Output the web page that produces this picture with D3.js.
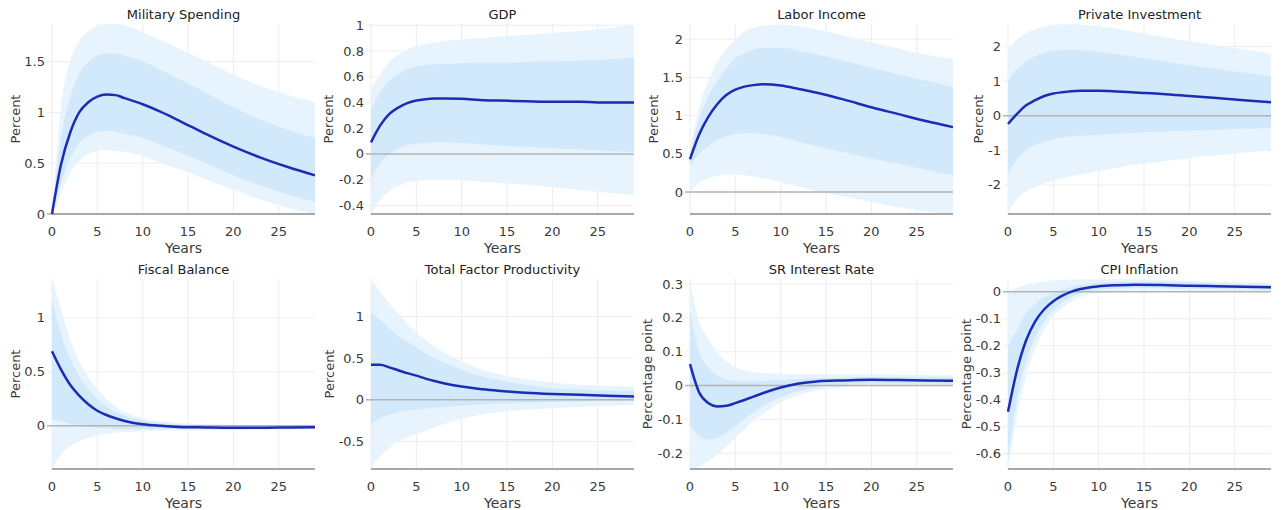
<!DOCTYPE html>
<html>
<head>
<meta charset="utf-8">
<script src="https://cdn.jsdelivr.net/npm/d3@7"></script>
<style>
  html, body { margin: 0; padding: 0; background: #fff; }
  svg { display: block; font-family: "DejaVu Sans", Verdana, sans-serif; }
</style>
</head>
<body>
<svg id="chart" width="1283" height="510"></svg>
<script>
const years = [0, 1, 2, 3, 4, 5, 6, 7, 8, 10, 12, 14, 17, 20, 23, 26, 29];
const xTicks = [0, 5, 10, 15, 20, 25];

// Military Spending
const milMed  = [0, 0.49, 0.80, 1.00, 1.10, 1.155, 1.175, 1.17, 1.14, 1.08, 1.005, 0.92, 0.785, 0.663, 0.555, 0.462, 0.38];
const milHi90 = [0, 1.05, 1.50, 1.70, 1.80, 1.85, 1.87, 1.87, 1.86, 1.79, 1.71, 1.63, 1.50, 1.37, 1.26, 1.17, 1.10];
const milHi68 = [0, 0.75, 1.15, 1.38, 1.50, 1.56, 1.58, 1.58, 1.56, 1.50, 1.42, 1.33, 1.19, 1.05, 0.93, 0.83, 0.75];
const milLo68 = [0, 0.30, 0.55, 0.70, 0.77, 0.81, 0.82, 0.81, 0.79, 0.75, 0.68, 0.61, 0.50, 0.38, 0.28, 0.19, 0.12];
const milLo90 = [0, 0.20, 0.40, 0.52, 0.59, 0.62, 0.63, 0.62, 0.61, 0.57, 0.50, 0.44, 0.34, 0.24, 0.14, 0.06, 0.0];
const milTicks = [0, 0.5, 1, 1.5];

// GDP
const gdpMed  = [0.09, 0.22, 0.31, 0.36, 0.395, 0.415, 0.425, 0.43, 0.43, 0.428, 0.42, 0.415, 0.41, 0.405, 0.405, 0.40, 0.40];
const gdpHi90 = [0.50, 0.62, 0.71, 0.77, 0.81, 0.84, 0.855, 0.865, 0.875, 0.89, 0.90, 0.91, 0.925, 0.94, 0.955, 0.975, 1.0];
const gdpHi68 = [0.35, 0.48, 0.57, 0.62, 0.66, 0.68, 0.69, 0.70, 0.70, 0.705, 0.71, 0.71, 0.715, 0.72, 0.725, 0.735, 0.75];
const gdpLo68 = [-0.20, -0.07, 0.0, 0.04, 0.07, 0.08, 0.085, 0.09, 0.09, 0.085, 0.075, 0.065, 0.055, 0.045, 0.035, 0.025, 0.015];
const gdpLo90 = [-0.46, -0.36, -0.29, -0.25, -0.22, -0.21, -0.205, -0.20, -0.20, -0.205, -0.215, -0.225, -0.24, -0.26, -0.28, -0.30, -0.32];
const gdpTicks = [-0.4, -0.2, 0, 0.2, 0.4, 0.6, 0.8, 1];

// Labor Income
const labMed  = [0.43, 0.75, 0.98, 1.15, 1.27, 1.34, 1.38, 1.40, 1.41, 1.395, 1.35, 1.30, 1.21, 1.11, 1.02, 0.93, 0.85];
const labHi90 = [0.55, 1.10, 1.45, 1.70, 1.87, 2.00, 2.10, 2.15, 2.18, 2.19, 2.17, 2.13, 2.05, 1.96, 1.88, 1.80, 1.74];
const labHi68 = [0.50, 0.95, 1.25, 1.45, 1.62, 1.75, 1.82, 1.87, 1.89, 1.89, 1.85, 1.80, 1.72, 1.63, 1.54, 1.46, 1.38];
const labLo68 = [0.35, 0.50, 0.60, 0.68, 0.73, 0.76, 0.77, 0.77, 0.76, 0.72, 0.66, 0.60, 0.52, 0.44, 0.37, 0.29, 0.22];
const labLo90 = [0.0, 0.12, 0.18, 0.21, 0.23, 0.23, 0.22, 0.20, 0.18, 0.13, 0.07, 0.01, -0.06, -0.13, -0.20, -0.25, -0.29];
const labTicks = [0, 0.5, 1, 1.5, 2];

// Private Investment
const invMed  = [-0.24, 0.05, 0.30, 0.45, 0.57, 0.64, 0.68, 0.71, 0.72, 0.72, 0.70, 0.67, 0.63, 0.57, 0.51, 0.45, 0.39];
const invHi90 = [1.90, 2.20, 2.38, 2.50, 2.58, 2.62, 2.64, 2.64, 2.63, 2.60, 2.52, 2.42, 2.28, 2.15, 2.03, 1.92, 1.80];
const invHi68 = [1.02, 1.35, 1.57, 1.72, 1.82, 1.88, 1.90, 1.90, 1.89, 1.85, 1.78, 1.70, 1.58, 1.46, 1.35, 1.25, 1.15];
const invLo68 = [-1.68, -1.25, -1.00, -0.85, -0.75, -0.68, -0.63, -0.60, -0.58, -0.55, -0.52, -0.49, -0.46, -0.43, -0.41, -0.38, -0.36];
const invLo90 = [-2.83, -2.40, -2.20, -2.05, -1.95, -1.88, -1.81, -1.75, -1.70, -1.60, -1.50, -1.42, -1.32, -1.22, -1.14, -1.07, -1.00];
const invTicks = [-2, -1, 0, 1, 2];

// Fiscal Balance
const fisMed  = [0.69, 0.52, 0.38, 0.28, 0.20, 0.14, 0.10, 0.07, 0.045, 0.015, 0.0, -0.01, -0.015, -0.018, -0.018, -0.015, -0.013];
const fisHi90 = [1.36, 1.08, 0.80, 0.60, 0.45, 0.34, 0.25, 0.18, 0.13, 0.07, 0.04, 0.025, 0.015, 0.01, 0.01, 0.01, 0.01];
const fisHi68 = [1.16, 0.85, 0.62, 0.46, 0.34, 0.25, 0.18, 0.13, 0.095, 0.05, 0.025, 0.012, 0.005, 0.0, 0.0, 0.0, 0.0];
const fisLo68 = [0.06, 0.04, 0.02, 0.0, -0.01, -0.02, -0.025, -0.03, -0.03, -0.03, -0.03, -0.03, -0.03, -0.03, -0.025, -0.025, -0.022];
const fisLo90 = [-0.40, -0.27, -0.19, -0.14, -0.11, -0.09, -0.075, -0.065, -0.058, -0.05, -0.045, -0.042, -0.04, -0.038, -0.035, -0.033, -0.03];
const fisTicks = [0, 0.5, 1];

// Total Factor Productivity
const tfpMed  = [0.42, 0.42, 0.39, 0.355, 0.32, 0.29, 0.255, 0.225, 0.20, 0.16, 0.13, 0.11, 0.085, 0.07, 0.06, 0.05, 0.04];
const tfpHi90 = [1.45, 1.30, 1.16, 1.03, 0.92, 0.81, 0.72, 0.64, 0.57, 0.46, 0.37, 0.31, 0.25, 0.21, 0.18, 0.17, 0.16];
const tfpHi68 = [1.06, 0.96, 0.86, 0.77, 0.70, 0.63, 0.56, 0.50, 0.45, 0.36, 0.29, 0.24, 0.18, 0.14, 0.12, 0.11, 0.10];
const tfpLo68 = [-0.29, -0.22, -0.18, -0.15, -0.13, -0.115, -0.105, -0.095, -0.085, -0.07, -0.055, -0.045, -0.035, -0.025, -0.02, -0.015, -0.01];
const tfpLo90 = [-0.82, -0.68, -0.58, -0.50, -0.45, -0.41, -0.37, -0.33, -0.29, -0.23, -0.18, -0.15, -0.12, -0.10, -0.085, -0.07, -0.06];
const tfpTicks = [-0.5, 0, 0.5, 1];

// SR Interest Rate
const srMed  = [0.063, -0.02, -0.052, -0.062, -0.06, -0.052, -0.043, -0.033, -0.023, -0.006, 0.006, 0.012, 0.015, 0.017, 0.016, 0.015, 0.014];
const srHi90 = [0.31, 0.19, 0.14, 0.10, 0.072, 0.055, 0.045, 0.04, 0.037, 0.035, 0.034, 0.033, 0.032, 0.032, 0.032, 0.031, 0.03];
const srHi68 = [0.22, 0.10, 0.055, 0.03, 0.018, 0.013, 0.012, 0.012, 0.013, 0.016, 0.02, 0.022, 0.024, 0.025, 0.025, 0.025, 0.024];
const srLo68 = [-0.12, -0.15, -0.16, -0.155, -0.14, -0.12, -0.10, -0.08, -0.062, -0.035, -0.016, -0.005, 0.002, 0.005, 0.005, 0.005, 0.005];
const srLo90 = [-0.25, -0.24, -0.225, -0.205, -0.18, -0.155, -0.13, -0.105, -0.085, -0.05, -0.028, -0.015, -0.005, 0.0, 0.0, 0.0, 0.0];
const srTicks = [-0.2, -0.1, 0, 0.1, 0.2, 0.3];

// CPI Inflation
const cpiMed  = [-0.445, -0.29, -0.18, -0.11, -0.065, -0.035, -0.015, 0.0, 0.01, 0.02, 0.024, 0.026, 0.025, 0.022, 0.02, 0.018, 0.016];
const cpiHi90 = [0.0, 0.015, 0.025, 0.033, 0.038, 0.042, 0.044, 0.045, 0.046, 0.046, 0.046, 0.045, 0.043, 0.04, 0.037, 0.034, 0.032];
const cpiHi68 = [-0.20, -0.14, -0.08, -0.045, -0.02, -0.005, 0.008, 0.018, 0.025, 0.033, 0.036, 0.037, 0.036, 0.034, 0.031, 0.028, 0.026];
const cpiLo68 = [-0.62, -0.40, -0.26, -0.17, -0.11, -0.07, -0.04, -0.02, -0.006, 0.007, 0.012, 0.014, 0.013, 0.011, 0.009, 0.008, 0.007];
const cpiLo90 = [-0.66, -0.46, -0.31, -0.21, -0.14, -0.09, -0.06, -0.035, -0.02, -0.005, 0.002, 0.004, 0.004, 0.003, 0.002, 0.001, 0.0];
const cpiTicks = [-0.6, -0.5, -0.4, -0.3, -0.2, -0.1, 0];

const panels = [
  { title: 'Military Spending', unit: 'Percent', med: milMed, lo90: milLo90, hi90: milHi90, lo68: milLo68, hi68: milHi68, dom: [0, 1.87], ticks: milTicks, left: 52, top: 24, gap: 37 },
  { title: 'GDP', unit: 'Percent', med: gdpMed, lo90: gdpLo90, hi90: gdpHi90, lo68: gdpLo68, hi68: gdpHi68, dom: [-0.467, 1.01], ticks: gdpTicks, left: 371, top: 24, gap: 43 },
  { title: 'Labor Income', unit: 'Percent', med: labMed, lo90: labLo90, hi90: labHi90, lo68: labLo68, hi68: labHi68, dom: [-0.287, 2.2], ticks: labTicks, left: 690, top: 24, gap: 37 },
  { title: 'Private Investment', unit: 'Percent', med: invMed, lo90: invLo90, hi90: invHi90, lo68: invLo68, hi68: invHi68, dom: [-2.84, 2.65], ticks: invTicks, left: 1008, top: 24, gap: 30 },
  { title: 'Fiscal Balance', unit: 'Percent', med: fisMed, lo90: fisLo90, hi90: fisHi90, lo68: fisLo68, hi68: fisHi68, dom: [-0.40, 1.36], ticks: fisTicks, left: 52, top: 279, gap: 37 },
  { title: 'Total Factor Productivity', unit: 'Percent', med: tfpMed, lo90: tfpLo90, hi90: tfpHi90, lo68: tfpLo68, hi68: tfpHi68, dom: [-0.83, 1.45], ticks: tfpTicks, left: 371, top: 279, gap: 42 },
  { title: 'SR Interest Rate', unit: 'Percentage point', med: srMed, lo90: srLo90, hi90: srHi90, lo68: srLo68, hi68: srHi68, dom: [-0.247, 0.315], ticks: srTicks, left: 690, top: 279, gap: 43 },
  { title: 'CPI Inflation', unit: 'Percentage point', med: cpiMed, lo90: cpiLo90, hi90: cpiHi90, lo68: cpiLo68, hi68: cpiHi68, dom: [-0.657, 0.047], ticks: cpiTicks, left: 1008, top: 279, gap: 42 },
];

const W = 263, H = 190;
const svg = d3.select('#chart');

panels.forEach(p => {
  const g = svg.append('g').attr('transform', `translate(${p.left},${p.top})`);
  const x = d3.scaleLinear().domain([0, 29]).range([0, W]);
  const y = d3.scaleLinear().domain(p.dom).range([H, 0]);

  // grid
  g.append('g').selectAll('line').data(xTicks).join('line')
    .attr('x1', d => x(d)).attr('x2', d => x(d))
    .attr('y1', 0).attr('y2', H)
    .attr('stroke', '#ececec').attr('stroke-width', 1);
  g.append('g').selectAll('line').data(p.ticks).join('line')
    .attr('x1', -5).attr('x2', W)
    .attr('y1', d => y(d)).attr('y2', d => y(d))
    .attr('stroke', '#eeeeee').attr('stroke-width', 1);

  const band = (lo, hi) => d3.area()
    .x((d, i) => x(years[i]))
    .y0((d, i) => y(lo[i]))
    .y1((d, i) => y(hi[i]))
    .curve(d3.curveMonotoneX);

  g.append('path').datum(years).attr('d', band(p.lo90, p.hi90)).attr('fill', '#e8f4fd');
  g.append('path').datum(years).attr('d', band(p.lo68, p.hi68)).attr('fill', '#d2e9fb');

  // zero line
  g.append('line')
    .attr('x1', -5).attr('x2', W)
    .attr('y1', y(0)).attr('y2', y(0))
    .attr('stroke', '#b4b4b4').attr('stroke-width', 1.5);

  // bottom axis line
  g.append('line')
    .attr('x1', 0).attr('x2', W)
    .attr('y1', H).attr('y2', H)
    .attr('stroke', '#a8a8a8').attr('stroke-width', 2);

  const line = d3.line()
    .x((d, i) => x(years[i]))
    .y((d, i) => y(p.med[i]))
    .curve(d3.curveMonotoneX);
  g.append('path').datum(years).attr('d', line)
    .attr('fill', 'none').attr('stroke', '#1b2db3').attr('stroke-width', 2.5)
    .attr('stroke-linejoin', 'round');

  // y tick labels
  g.append('g').selectAll('text').data(p.ticks).join('text')
    .attr('x', -7).attr('y', d => y(d)).attr('dy', '0.35em')
    .attr('text-anchor', 'end').attr('font-size', 13).attr('fill', '#3a3a3a')
    .text(d => String(d));

  // x tick labels
  g.append('g').selectAll('text').data(xTicks).join('text')
    .attr('x', d => x(d)).attr('y', H + 22)
    .attr('text-anchor', 'middle').attr('font-size', 13).attr('fill', '#3a3a3a')
    .text(d => d);

  g.append('text').attr('x', W / 2).attr('y', H + 39)
    .attr('text-anchor', 'middle').attr('font-size', 14).attr('fill', '#3a3a3a')
    .text('Years');

  g.append('text').attr('x', W / 2).attr('y', -5)
    .attr('text-anchor', 'middle').attr('font-size', 13).attr('fill', '#222')
    .text(p.title);

  g.append('text')
    .attr('transform', `translate(${-p.gap},${H / 2}) rotate(-90)`)
    .attr('text-anchor', 'middle').attr('dy', '0.35em')
    .attr('font-size', 13).attr('fill', '#3a3a3a')
    .text(p.unit);
});
</script>
</body>
</html>
